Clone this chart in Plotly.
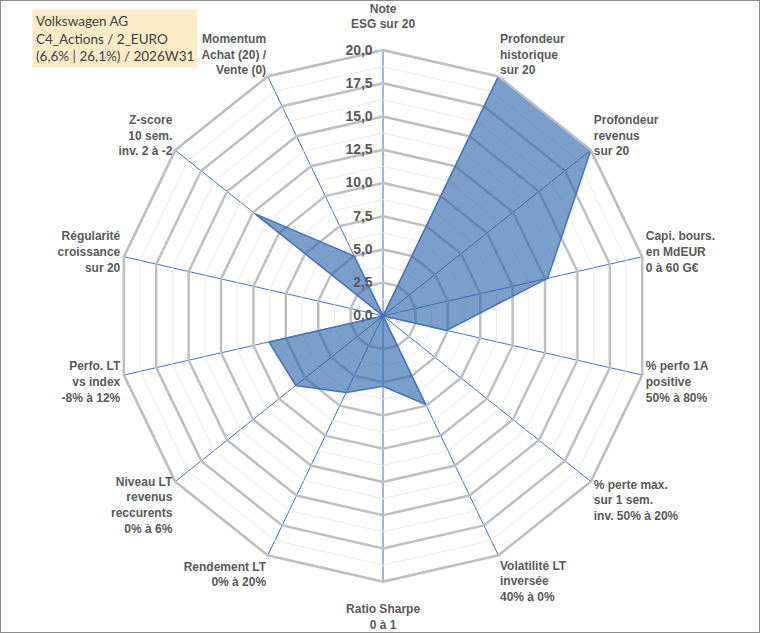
import plotly.graph_objects as go

# Axes du radar (sens horaire, en partant du haut)
categories = [
    "Note<br>ESG sur 20<br> ",
    "Profondeur<br>historique<br>sur 20",
    "Profondeur<br>revenus<br>sur 20",
    "Capi. bours.<br>en MdEUR<br>0 à 60 G€",
    "% perfo 1A<br>positive<br>50% à 80%",
    "% perte max.<br>sur 1 sem.<br>inv. 50% à 20%",
    "Volatilité LT<br>inversée<br>40% à 0%",
    " <br>Ratio Sharpe<br>0 à 1",
    "Rendement LT<br>0% à 20%",
    "Niveau LT<br>revenus<br>reccurents<br>0% à 6%",
    "Perfo. LT<br>vs index<br>-8% à 12%",
    "Régularité<br>croissance<br>sur 20",
    "Z-score<br>10 sem.<br>inv. 2 à -2",
    "Momentum<br>Achat (20) /<br>Vente (0)",
]
scores = [0, 20, 20, 12.7, 4.9, 0, 7.4, 5.3, 6.4, 8.4, 8.8, 0, 12.3, 5.0]

major_levels = [2.5, 5, 7.5, 10, 12.5, 15, 17.5, 20]
tick_vals = [i * 1.25 for i in range(17)]
tick_text = [f"<b>{v:.1f}</b>\u00a0\u00a0".replace(".", ",") if i % 2 == 0 else "" for i, v in enumerate(tick_vals)]

title_text = "Volkswagen AG<br>C4_Actions / 2_EURO<br>(6,6% | 26,1%) / 2026W31"

labels_bold = ["<b>" + c + "</b>" for c in categories]

fig = go.Figure()

# anneaux principaux (gris épais)
for lv in major_levels:
    fig.add_trace(go.Scatterpolar(
        r=[lv] * (len(labels_bold) + 1),
        theta=labels_bold + [labels_bold[0]],
        mode="lines",
        line=dict(color="#BFBFBF", width=2.5),
        hoverinfo="skip",
        showlegend=False,
    ))

# série
fig.add_trace(go.Scatterpolar(
    r=scores + [scores[0]],
    theta=labels_bold + [labels_bold[0]],
    mode="lines",
    fill="toself",
    fillcolor="rgba(40,100,170,0.62)",
    line=dict(color="#4472C4", width=1.5),
    showlegend=False,
))

fig.update_layout(
    width=760,
    height=633,
    margin=dict(l=0, r=0, t=0, b=0),
    paper_bgcolor="white",
    plot_bgcolor="white",
    font=dict(family="Liberation Sans", size=12, color="#595959"),
    polar=dict(
        domain=dict(x=[0.154, 0.854], y=[0.081, 0.921]),
        bgcolor="white",
        gridshape="linear",
        radialaxis=dict(
            range=[0, 20],
            angle=90,
            tickangle=90,
            side="counterclockwise",
            tickvals=tick_vals,
            ticktext=tick_text,
            tickfont=dict(family="Liberation Sans", size=14, color="#595959"),
            showline=False,
            gridcolor="#EBEBEB",
            gridwidth=1,
            ticks="",
        ),
        angularaxis=dict(
            direction="clockwise",
            rotation=90,
            showline=True,
            linecolor="#BFBFBF",
            linewidth=2.5,
            gridcolor="#4472C4",
            gridwidth=1,
            ticks="",
            tickfont=dict(family="Liberation Sans", size=12, color="#595959"),
        ),
    ),
    annotations=[
        dict(
            text=title_text,
            xref="paper", yref="paper",
            x=0.042, y=0.985,
            xanchor="left", yanchor="top",
            align="left",
            showarrow=False,
            bgcolor="#FDEBC8",
            borderpad=3,
            font=dict(family="Lato", size=13.5, color="#404040"),
        )
    ],
    shapes=[
        dict(type="rect", xref="paper", yref="paper", x0=0, y0=0, x1=1, y1=1,
             line=dict(color="#8C8C8C", width=2)),
    ],
)

fig.write_html("out.html", config={"displayModeBar": False},
               post_script="document.body.style.margin='0px';")
